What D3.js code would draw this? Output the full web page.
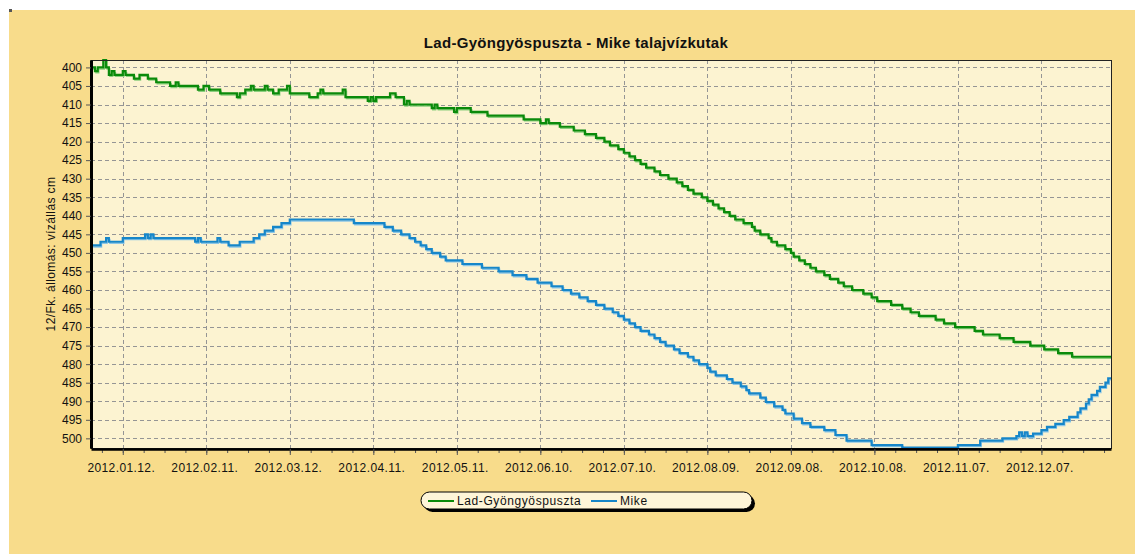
<!DOCTYPE html>
<html lang="hu">
<head>
<meta charset="UTF-8" />
<title>Lad-Gyöngyöspuszta - Mike talajvízkutak</title>
<script src="https://cdn.jsdelivr.net/npm/d3@7/dist/d3.min.js"></script>
</head>
<body style="padding: 0; margin: 0; background-color: #fff;">
<script>
// napok 2012.01.01-től, a lépcsők változási pontjai (cm)
const ladDays = [0, 1, 2, 4, 5, 6, 7, 8, 11, 12, 15, 17, 20, 23, 28, 30, 31, 38, 40, 42, 46, 52, 53, 55, 57, 58, 62, 63, 65, 67, 70, 71, 78, 81, 82, 83, 90, 91, 99, 100, 101, 102, 107, 109, 112, 113, 114, 122, 123, 124, 130, 131, 136, 142, 155, 161, 163, 164, 168, 173, 177, 181, 184, 186, 189, 191, 193, 195, 197, 199, 202, 204, 207, 210, 212, 214, 216, 219, 221, 223, 225, 227, 229, 231, 234, 237, 238, 240, 243, 244, 246, 249, 251, 252, 254, 256, 258, 260, 263, 265, 268, 270, 273, 277, 280, 282, 287, 291, 294, 297, 303, 306, 310, 317, 320, 326, 331, 337, 342, 347, 352, 366];
const ladValues = [400, 401, 400, 398, 400, 402, 401, 402, 401, 402, 403, 402, 403, 404, 405, 404, 405, 406, 405, 406, 407, 408, 407, 406, 405, 406, 405, 406, 407, 406, 405, 407, 408, 407, 406, 407, 406, 408, 409, 408, 409, 408, 407, 408, 410, 409, 410, 411, 410, 411, 412, 411, 412, 413, 414, 415, 414, 415, 416, 417, 418, 419, 420, 421, 422, 423, 424, 425, 426, 427, 428, 429, 430, 431, 432, 433, 434, 435, 436, 437, 438, 439, 440, 441, 442, 443, 444, 445, 446, 447, 448, 449, 450, 451, 452, 453, 454, 455, 456, 457, 458, 459, 460, 461, 462, 463, 464, 465, 466, 467, 468, 469, 470, 471, 472, 473, 474, 475, 476, 477, 478, 478];

const mikeDays = [0, 3, 5, 6, 11, 19, 20, 21, 22, 37, 38, 39, 45, 46, 49, 53, 58, 60, 62, 65, 68, 71, 94, 105, 108, 111, 114, 116, 118, 120, 122, 125, 127, 133, 140, 146, 151, 156, 160, 165, 169, 172, 175, 178, 181, 184, 187, 189, 191, 193, 195, 197, 200, 202, 204, 206, 209, 211, 214, 216, 218, 221, 222, 224, 228, 230, 233, 235, 236, 240, 242, 245, 248, 249, 252, 255, 258, 263, 267, 271, 280, 291, 311, 319, 327, 332, 333, 334, 335, 336, 338, 341, 343, 346, 349, 351, 354, 355, 357, 358, 359, 361, 362, 364, 365, 366];
const mikeValues = [448, 447, 446, 447, 446, 445, 446, 445, 446, 447, 446, 447, 446, 447, 448, 447, 446, 445, 444, 443, 442, 441, 442, 443, 444, 445, 446, 447, 448, 449, 450, 451, 452, 453, 454, 455, 456, 457, 458, 459, 460, 461, 462, 463, 464, 465, 466, 467, 468, 469, 470, 471, 472, 473, 474, 475, 476, 477, 478, 479, 480, 481, 482, 483, 484, 485, 486, 487, 487.9, 489, 490.2, 491.4, 492.3, 493.3, 494.7, 495.9, 496.9, 497.8, 499.1, 500.6, 501.8, 502.5, 501.8, 500.6, 500, 499.4, 498.4, 499.4, 498.4, 499.4, 498.7, 497.8, 496.9, 496.1, 495.1, 494.2, 493, 491.9, 490.6, 489.5, 488.3, 487.2, 486.1, 485, 483.8, 483.8];

const seriesNames = ['Lad-Gyöngyöspuszta', 'Mike'];
const xTickLabels = ['2012.01.12.', '2012.02.11.', '2012.03.12.', '2012.04.11.', '2012.05.11.', '2012.06.10.', '2012.07.10.', '2012.08.09.', '2012.09.08.', '2012.10.08.', '2012.11.07.', '2012.12.07.'];
const yTickValues = [400, 405, 410, 415, 420, 425, 430, 435, 440, 445, 450, 455, 460, 465, 470, 475, 480, 485, 490, 495, 500];

const width = 1135;
const height = 554;
const plot = { left: 91, right: 1111, top: 60, bottom: 448 };
const font = 'Liberation Sans, Arial, sans-serif';

const svg = d3
    .select('body')
    .append('svg')
    .attr('width', width)
    .attr('height', height)
    .style('display', 'block');

// háttér
svg.append('rect')
    .attr('x', 9).attr('y', 10)
    .attr('width', width - 9).attr('height', height - 10)
    .attr('fill', '#f8dc8b');
svg.append('rect').attr('x', 9).attr('y', 9).attr('width', 3).attr('height', 3).attr('fill', '#555');

svg.append('rect')
    .attr('x', plot.left).attr('y', plot.top)
    .attr('width', plot.right - plot.left).attr('height', plot.bottom - plot.top)
    .attr('fill', '#fcf3d1');

const yearStart = new Date(2012, 0, 1);
const x = d3.scaleTime()
    .domain([new Date(2011, 11, 31, 14), new Date(2013, 0, 1)])
    .range([plot.left, plot.right]);
const y = d3.scaleLinear()
    .domain([398, 502.6])
    .range([plot.top, plot.bottom]);

const parseTick = d3.timeParse('%Y.%m.%d.');
const majorDates = xTickLabels.map(parseTick);
const minorDates = [];
for (let i = -1; i < 48; i++) {
    const d = new Date(majorDates[0].getTime() + i * 7.5 * 864e5);
    if (d >= x.domain()[0] && d <= x.domain()[1]) minorDates.push(d);
}

// rácsvonalak
const grid = svg.append('g')
    .attr('stroke', '#959595')
    .attr('stroke-width', 1)
    .attr('stroke-dasharray', '4,3');
grid.selectAll('.hg')
    .data(yTickValues)
    .join('line')
    .attr('x1', plot.left).attr('x2', plot.right)
    .attr('y1', d => Math.round(y(d)) + 0.5).attr('y2', d => Math.round(y(d)) + 0.5);
grid.selectAll('.vg')
    .data(majorDates)
    .join('line')
    .attr('x1', d => Math.round(x(d)) + 0.5).attr('x2', d => Math.round(x(d)) + 0.5)
    .attr('y1', plot.top).attr('y2', plot.bottom);

svg.append('clipPath').attr('id', 'clip')
    .append('rect')
    .attr('x', plot.left).attr('y', plot.top - 2)
    .attr('width', plot.right - plot.left).attr('height', plot.bottom - plot.top + 2);

const line = d3.line()
    .x(d => x(d.date))
    .y(d => y(d.value))
    .curve(d3.curveStepAfter);

const series = [
    { name: seriesNames[0], color: '#0a8a0a', light: '#8ccf7e', days: ladDays, values: ladValues },
    { name: seriesNames[1], color: '#1686c9', light: '#8cc6e6', days: mikeDays, values: mikeValues }
];

const lines = svg.append('g').attr('clip-path', 'url(#clip)');
series.forEach(s => {
    const data = s.days.map((d, i) => ({ date: d3.timeDay.offset(yearStart, d), value: s.values[i] }));
    lines.append('path')
        .attr('d', line(data))
        .attr('transform', 'translate(1,1.5)')
        .attr('fill', 'none')
        .attr('stroke', s.light)
        .attr('stroke-width', 1.5);
    lines.append('path')
        .attr('d', line(data))
        .attr('fill', 'none')
        .attr('stroke', s.color)
        .attr('stroke-width', 2.2);
});

// keret és tengelyek
svg.append('rect')
    .attr('x', plot.left).attr('y', plot.top + 0.5)
    .attr('width', plot.right - plot.left + 0.5).attr('height', plot.bottom - plot.top)
    .attr('fill', 'none')
    .attr('stroke', '#222')
    .attr('stroke-width', 1);

const yAxis = svg.append('g')
    .attr('transform', `translate(${plot.left},0)`)
    .call(d3.axisLeft(y).tickValues(yTickValues).tickSize(5).tickSizeOuter(0).tickPadding(4));
yAxis.select('.domain').attr('stroke', '#000').attr('stroke-width', 3);
yAxis.selectAll('line').attr('stroke', '#555');
yAxis.selectAll('text').attr('font-family', font).attr('font-size', 12).attr('fill', '#111');

const xMinor = svg.append('g')
    .attr('transform', `translate(0,${plot.bottom + 1})`)
    .call(d3.axisBottom(x).tickValues(minorDates).tickSize(4).tickSizeOuter(0).tickFormat(''));
xMinor.select('.domain').remove();
xMinor.selectAll('line').attr('stroke', '#555');

const xAxis = svg.append('g')
    .attr('transform', `translate(0,${plot.bottom + 1})`)
    .call(d3.axisBottom(x).tickValues(majorDates).tickSize(6).tickSizeOuter(0).tickPadding(8)
        .tickFormat(d3.timeFormat('%Y.%m.%d.')));
xAxis.select('.domain').attr('stroke', '#000').attr('stroke-width', 2.5);
xAxis.selectAll('line').attr('stroke', '#555');
xAxis.selectAll('text')
    .attr('font-family', font).attr('font-size', 12).attr('fill', '#111')
    .attr('letter-spacing', 0.4).attr('dx', -2);

// címek
svg.append('text')
    .attr('x', 576).attr('y', 47.5)
    .attr('text-anchor', 'middle')
    .attr('font-family', font).attr('font-size', 15).attr('font-weight', 'bold')
    .attr('letter-spacing', 0.3)
    .attr('fill', '#111')
    .text('Lad-Gyöngyöspuszta - Mike talajvízkutak');

svg.append('text')
    .attr('transform', 'translate(51,254) rotate(-90)')
    .attr('text-anchor', 'middle')
    .attr('dy', '0.35em')
    .attr('font-family', font).attr('font-size', 12)
    .attr('letter-spacing', 0.4)
    .attr('fill', '#111')
    .text('12/Fk. állomás: vízállás cm');

// jelmagyarázat
const legend = svg.append('g').attr('transform', 'translate(421,492)');
legend.append('rect')
    .attr('x', 3).attr('y', 3).attr('width', 331).attr('height', 17).attr('rx', 8.5)
    .attr('fill', '#000');
legend.append('rect')
    .attr('x', 0).attr('y', 0).attr('width', 331).attr('height', 17).attr('rx', 8.5)
    .attr('fill', '#fef5d8').attr('stroke', '#000').attr('stroke-width', 1);
const itemX = [7, 170];
series.forEach((s, i) => {
    legend.append('line')
        .attr('x1', itemX[i]).attr('x2', itemX[i] + 26)
        .attr('y1', 9).attr('y2', 9)
        .attr('stroke', s.color).attr('stroke-width', 2);
    legend.append('text')
        .attr('x', itemX[i] + 29).attr('y', 9).attr('dy', '0.35em')
        .attr('font-family', font).attr('font-size', 12).attr('letter-spacing', 0.6)
        .attr('fill', '#111')
        .text(s.name);
});
</script>
</body>
</html>
